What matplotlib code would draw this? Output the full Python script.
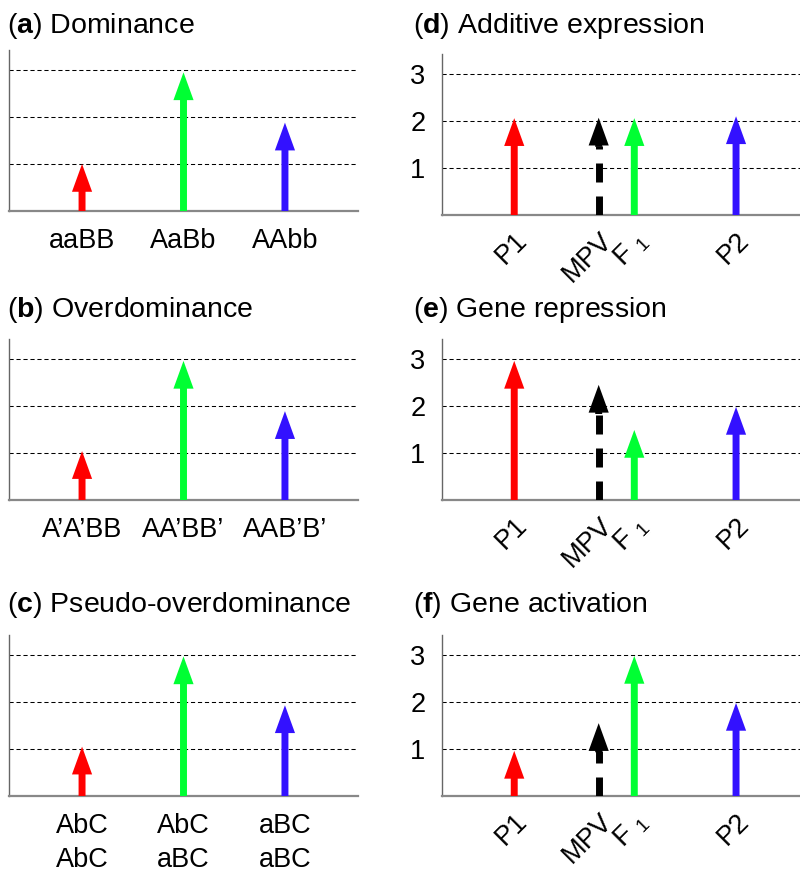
import matplotlib
matplotlib.use("Agg")
import matplotlib.pyplot as plt

plt.rcParams['font.family'] = ['Liberation Sans', 'DejaVu Sans']
plt.rcParams['mathtext.fontset'] = 'custom'
plt.rcParams['mathtext.rm'] = 'Liberation Sans'
plt.rcParams['mathtext.bf'] = 'Liberation Sans:bold'

# paneles de la izquierda (a, b, c)
titulos_izq = [r"($\mathbf{a}$) Dominance", r"($\mathbf{b}$) Overdominance", r"($\mathbf{c}$) Pseudo-overdominance"]
etiquetas_a = ["aaBB", "AaBb", "AAbb"]
etiquetas_b = ["A’A’BB", "AA’BB’", "AAB’B’"]
etiquetas_c = ["AbC\nAbC", "AbC\naBC", "aBC\naBC"]
valores_a = [1.0, 2.95, 1.88]
valores_b = [1.04, 2.96, 1.89]
valores_c = [1.05, 2.97, 1.93]
colores_izq = ['#ff0000', '#00ff33', '#3311ff']

# paneles de la derecha (d, e, f)
titulos_der = [r"($\mathbf{d}$) Additive expression", r"($\mathbf{e}$) Gene repression", r"($\mathbf{f}$) Gene activation"]
etiquetas_der = ["P1", "MPV", "F $_1$", "P2"]
valores_d = [2.06, 2.07, 2.06, 2.1]
valores_e = [2.96, 2.45, 1.49, 1.98]
valores_f = [0.96, 1.55, 2.98, 1.98]
colores_der = ['#ff0000', 'black', '#00ff33', '#3311ff']
es_mpv = [False, True, False, False]

pos_izq = [1, 2, 3]
pos_der = [0.99, 1.82, 2.17, 3.17]

fig = plt.figure(figsize=(8, 8.86), dpi=100)
H = 886.0
unidad = 47.0
ytop = 3.43
fs_titulo = 20.5
fs_etiq = 19.5


def eje(x0, x1, base):
    alto = ytop * unidad
    return fig.add_axes([x0 / 800, (H - base) / H, (x1 - x0) / 800, alto / H])


def flecha(ax, x, v, color, mpv=False):
    props = dict(width=5, headwidth=14.5, headlength=20, shrink=0,
                 facecolor=color, edgecolor='none')
    if mpv:
        top = v - 0.6
        ax.plot([x, x], [0, top], color=color, lw=5, solid_capstyle='butt',
                dashes=(19 / 1.389 / 5, 14 / 1.389 / 5), zorder=3)
        ax.annotate("", xy=(x, v), xytext=(x, v - 0.62), arrowprops=props, zorder=4)
    else:
        ax.annotate("", xy=(x, v), xytext=(x, 0), arrowprops=props, zorder=4)


def estilo(ax, xlim):
    ax.set_xlim(*xlim)
    ax.set_ylim(0, ytop)
    for y in [1, 2, 3]:
        ax.axhline(y, color='black', lw=0.75, dashes=(4, 2.7), zorder=1)
    for s in ['top', 'right']:
        ax.spines[s].set_visible(False)
    ax.spines['left'].set_color('#666666')
    ax.spines['bottom'].set_color('#888888')
    ax.spines['left'].set_linewidth(1.0)
    ax.spines['bottom'].set_linewidth(1.6)
    ax.tick_params(length=0)


bases = [211, 500, 796]
titulo_y = [33, 317, 612]

izq = [(etiquetas_a, valores_a), (etiquetas_b, valores_b), (etiquetas_c, valores_c)]
for i, (etiq, vals) in enumerate(izq):
    ax = eje(9, 358, bases[i])
    estilo(ax, (0.28, 3.72))
    for x, v, c in zip(pos_izq, vals, colores_izq):
        flecha(ax, x, v, c)
    ax.set_yticks([])
    ax.set_xticks(pos_izq)
    ax.set_xticklabels(etiq, fontsize=fs_etiq, linespacing=1.4)
    ax.tick_params(axis='x', pad=12)
    fig.text(7 / 800, (H - titulo_y[i]) / H, titulos_izq[i], fontsize=fs_titulo, va='baseline', ha='left')

bases_der = [215, 500, 796]
for i, vals in enumerate([valores_d, valores_e, valores_f]):
    ax = eje(442, 800, bases_der[i])
    estilo(ax, (0.28, 3.72 + (800 - 792) / 350 * 3.44))
    for x, v, c, m in zip(pos_der, vals, colores_der, es_mpv):
        flecha(ax, x, v, c, m)
    ax.set_yticks([1, 2, 3])
    ax.set_yticklabels(['1', '2', '3'], fontsize=fs_etiq)
    ax.tick_params(axis='y', pad=12)
    ax.set_xticks(pos_der)
    ax.set_xticklabels(etiquetas_der, fontsize=fs_etiq, rotation=45, ha='right', rotation_mode='anchor')
    ax.tick_params(axis='x', pad=9)
    fig.text(413 / 800, (H - titulo_y[i]) / H, titulos_der[i], fontsize=fs_titulo, va='baseline', ha='left')

fig.savefig("out.png", dpi=100)
